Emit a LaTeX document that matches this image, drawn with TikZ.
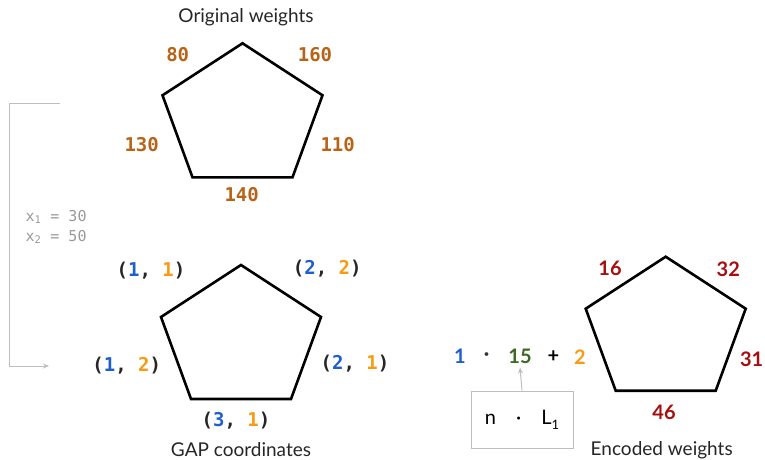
\documentclass[tikz,border=0pt]{standalone}
\usepackage{fontspec}
\setmainfont{Lato}
\newfontfamily\codefont{DejaVu Sans Mono}
\usetikzlibrary{arrows.meta}
\definecolor{wtbrown}{RGB}{184,100,24}
\definecolor{encred}{RGB}{165,15,15}
\definecolor{gapblue}{RGB}{30,95,205}
\definecolor{gaporange}{RGB}{248,154,18}
\definecolor{lengreen}{RGB}{60,105,35}
\definecolor{guidegray}{RGB}{190,190,190}
\tikzset{
  pent/.style={line width=2.6pt, line join=miter, black},
  caption/.style={font=\fontsize{19}{22}\selectfont, text=black!85},
  weight/.style={font=\codefont\bfseries\fontsize{19}{22}\selectfont, text=wtbrown},
  gapcoord/.style={font=\codefont\bfseries\fontsize{19}{22}\selectfont, text=black!85},
  encnum/.style={font=\bfseries\fontsize{20}{24}\selectfont, text=encred},
  guide/.style={draw=guidegray, line width=1pt},
}
\begin{document}
\begin{tikzpicture}[x=1pt,y=-1pt]
  \useasboundingbox (0,0) rectangle (765,460);
  % the three pentagons
  \foreach \p/\cx/\cy in {orig/242.5/118.3, gap/241/340, enc/665.7/331.7} {
    \coordinate (\p-c) at (\cx,\cy);
    \draw[pent] (\p-c) ++(0,-75) -- ++(80,52) -- ++(-30,82)
      -- ++(-100,0) -- ++(-30,-82) -- cycle;
  }
  % original weights
  \node[caption] (origtitle) at (246,17) {Original weights};
  \node[weight] (w80) at (177.7,54.3) {80};
  \node[weight] (w160) at (315,54.3) {160};
  \node[weight] (w130) at (141.7,144.3) {130};
  \node[weight] (w110) at (337.7,144.3) {110};
  \node[weight] (w140) at (241.7,194.3) {140};
  % offsets
  \node[anchor=west, text=black!40, font=\codefont\fontsize{15}{20}\selectfont, align=left]
    (offsets) at (22,227) {x\textsubscript{1} = 30\\x\textsubscript{2} = 50};
  \coordinate (brtop) at (60,103);
  \coordinate (brbot) at (49,366);
  \draw[guide, -{Stealth[length=6pt,width=5pt]}] (brtop) -- ++(-51,0) |- (brbot);
  % GAP coordinates
  \node[gapcoord] (g11) at (151,270.7) {(\textcolor{gapblue}{1}, \textcolor{gaporange}{1})};
  \node[gapcoord] (g22) at (327.3,269) {(\textcolor{gapblue}{2}, \textcolor{gaporange}{2})};
  \node[gapcoord] (g12) at (126.7,366) {(\textcolor{gapblue}{1}, \textcolor{gaporange}{2})};
  \node[gapcoord] (g21) at (355,363.3) {(\textcolor{gapblue}{2}, \textcolor{gaporange}{1})};
  \node[gapcoord] (g31) at (236,420.7) {(\textcolor{gapblue}{3}, \textcolor{gaporange}{1})};
  \node[caption] (gaptitle) at (241,450) {GAP coordinates};
  % encoding formula
  \node[encnum, text=gapblue] (f1) at (460,356.7) {1};
  \node[encnum, text=black!80] (fdot) at (486.7,356.7) {·};
  \node[encnum, text=lengreen] (f15) at (520,356.7) {15};
  \node[encnum, text=black] (fplus) at (553.3,356.7) {+};
  \node[encnum, text=gaporange] (f2) at (580,356.7) {2};
  \node[guide, minimum width=102pt, minimum height=57pt, font=\fontsize{20}{24}\selectfont]
    (lenbox) at (522,419.5) {n\quad·\quad L\raisebox{-5pt}{\fontsize{13}{13}\selectfont 1}};
  \draw[guide, -{Stealth[length=6pt,width=5pt]}] (lenbox.north) -- (f15.south);
  % encoded weights
  \node[encnum] (e16) at (610,268.3) {16};
  \node[encnum] (e32) at (728.3,269.3) {32};
  \node[encnum] (e31) at (751.7,359) {31};
  \node[encnum] (e46) at (664,412.7) {46};
  \node[caption] (enctitle) at (661.7,450) {Encoded weights};
\end{tikzpicture}
\end{document}
